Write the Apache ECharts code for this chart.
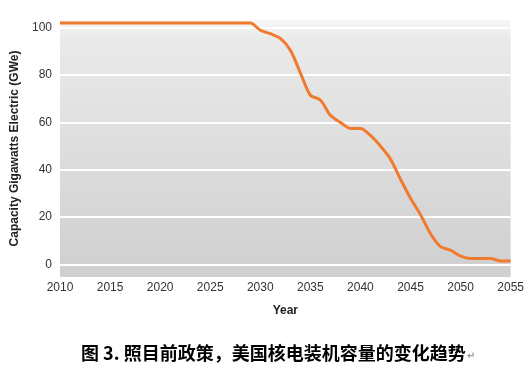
<!DOCTYPE html>
<html><head><meta charset="utf-8">
<script src="https://cdn.jsdelivr.net/npm/echarts@6/dist/echarts.min.js"></script>
<style>html,body{margin:0;padding:0;background:#fff}#c{width:527px;height:384px}</style>
</head><body><div id="c"></div>
<script>
const years = [2010,2011,2012,2013,2014,2015,2016,2017,2018,2019,2020,2021,2022,2023,2024,2025,2026,2027,2028,2029,2030,2031,2032,2033,2034,2035,2036,2037,2038,2039,2040,2041,2042,2043,2044,2045,2046,2047,2048,2049,2050,2051,2052,2053,2054,2055];
const capacity = [102,102,102,102,102,102,102,102,102,102,102,102,102,102,102,102,102,102,102,102,99,97.5,95.5,90.5,81,71.5,69.5,63,60,57.5,57.5,54.5,50,44.5,36,28,21,13,7.5,6,3.5,2.5,2.5,2.5,1.5,1.5];
const yTicks = [0,20,40,60,80,100];
const xTicks = [2010,2015,2020,2025,2030,2035,2040,2045,2050,2055];
const yTitle = 'Capacity Gigawatts Electric (GWe)';
const xTitle = 'Year';
const caption = '图 3. 照目前政策，美国核电装机容量的变化趋势';
const captionMark = '↵';

const chart = echarts.init(document.getElementById('c'), null, {renderer:'canvas'});
chart.setOption({
  animation:false,
  grid:{left:60,right:10,top:20,bottom:107,show:true,borderWidth:0,
    backgroundColor:{type:'linear',x:0,y:0,x2:0,y2:1,colorStops:[
      {offset:0,color:'#f7f7f7'},{offset:0.07,color:'#eaeaea'},{offset:1,color:'#cfcfcf'}]}},
  xAxis:{type:'value',min:2010,max:2055,interval:5,
    axisLine:{show:false},axisTick:{show:false},splitLine:{show:false},
    axisLabel:{margin:5,color:'#333',fontFamily:'Liberation Sans',fontSize:12,
      customValues:xTicks,formatter:v=>String(v)},
    name:xTitle,nameLocation:'middle',nameGap:28,
    nameTextStyle:{fontFamily:'Liberation Sans',fontWeight:'bold',fontSize:12,color:'#222'}},
  yAxis:{type:'value',min:-5.3,max:103.3,
    axisLine:{show:false},axisTick:{show:false,customValues:yTicks},splitLine:{show:false},
    axisLabel:{margin:8,color:'#333',fontFamily:'Liberation Sans',fontSize:12,customValues:yTicks},
    name:yTitle,nameLocation:'middle',nameGap:35,
    nameTextStyle:{fontFamily:'Liberation Sans',fontWeight:'bold',fontSize:12,color:'#222'}},
  title:{text:'{a|'+caption+'}{b|'+captionMark+'}',left:76,top:339,
    textStyle:{rich:{
      a:{fontFamily:'Noto Sans CJK SC',fontWeight:'bold',fontSize:18,color:'#000'},
      b:{fontFamily:'DejaVu Sans',fontSize:10,color:'#999',padding:[6,0,0,1]}}}},
  series:[
    {type:'line',data:[],silent:true,z:1,
      markLine:{silent:true,symbol:['none','none'],label:{show:false},
        lineStyle:{color:'#ffffff',width:2,type:'solid'},
        data:yTicks.map(v=>({yAxis:v}))}},
    {type:'line',z:5,showSymbol:false,smooth:0.3,
      data:years.map((y,i)=>[y,capacity[i]]),
      lineStyle:{color:'#f07a2e',width:3},itemStyle:{color:'#f07a2e'}}
  ]
});
</script></body></html>
